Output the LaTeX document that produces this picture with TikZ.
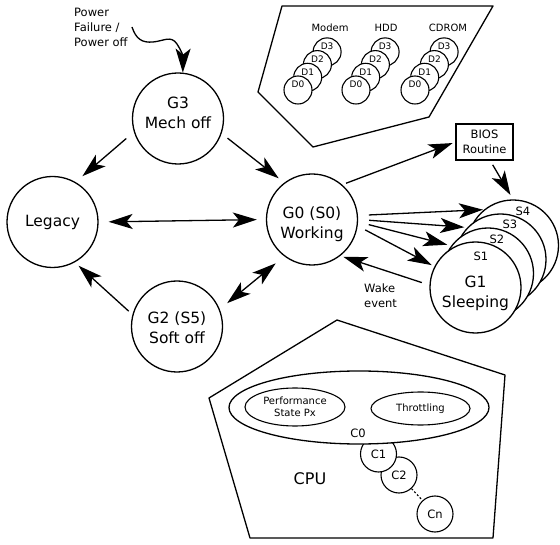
\documentclass[tikz,border=0pt]{standalone}
\usepackage{fontspec}
\setmainfont{DejaVu Sans}
\usetikzlibrary{arrows.meta,shapes.geometric}
\newcommand\fsBig{\fontsize{15.5}{20}\selectfont}
\newcommand\fsMid{\fontsize{11.5}{15}\selectfont}
\newcommand\fsSm{\fontsize{10}{12}\selectfont}
\newcommand\fsDev{\fontsize{9}{10}\selectfont}
\newcommand\fsCPU{\fontsize{16}{19}\selectfont}
\begin{document}
\begin{tikzpicture}[x=1pt,y=-1pt,
  state/.style={circle,draw,line width=1.3pt,minimum size=91pt,inner sep=0pt,fill=white},
  dev/.style={circle,draw,line width=1.1pt,minimum size=28pt,inner sep=0pt,fill=white},
  cst/.style={circle,draw,line width=1.1pt,minimum size=36pt,inner sep=0pt,fill=white,font=\fsMid},
  arr/.style={line width=1.3pt,-{Stealth[length=24pt,width=15pt,inset=6pt]}},
  darr/.style={line width=1.3pt,{Stealth[length=24pt,width=15pt,inset=6pt]}-{Stealth[length=24pt,width=15pt,inset=6pt]}},
  txt/.style={inner sep=0pt,align=center},
  poly/.style={line width=1.3pt,line join=round}
]
\useasboundingbox (0,0) rectangle (560,545);

% ---- device polygon ----
\draw[poly] (282,6) -- (493,6) -- (429,117) -- (313,147) -- (258,92) -- cycle;
\node[txt,font=\fsSm] (lmodem) at (330,28) {Modem};
\node[txt,font=\fsSm] (lhdd) at (386,28) {HDD};
\node[txt,font=\fsSm] (lcd) at (448,28) {CDROM};
\foreach \gx/\gn in {298/m,356/h,415/c} {
  \foreach \k in {3,2,1,0} {
    \node[dev,label={[txt,font=\fsDev,yshift=5.5pt]center:D\k}] (\gn\k) at ({\gx+9.7*\k},{90-12.7*\k}) {};
  }
}

% ---- states ----
\node[state,label={[txt,font=\fsBig,yshift=5.5pt,name=g3t]center:G3\\Mech off}] (g3) at (178,118.5) {};
\node[state,label={[txt,font=\fsBig,name=legt]center:Legacy}] (legacy) at (52.5,222) {};
\node[state,label={[txt,font=\fsBig,yshift=-1.5pt,name=g2t]center:G2 (S5)\\Soft off}] (g2) at (177,326.5) {};
\node[state,label={[txt,font=\fsBig,yshift=-4.5pt,name=g0t]center:G0 (S0)\\Working}] (g0) at (312,219.5) {};

% sleeping stack
\node[state] (s4) at (513,245.5) {};
\node[state] (s3) at (500.5,259.5) {};
\node[state] (s2) at (488,273.5) {};
\node[state,label={[txt,font=\fsBig,yshift=-5.5pt,name=g1t]center:G1\\Sleeping}] (g1) at (475.5,287.5) {};
\node[txt,font=\fsMid] (s4t) at (523,211) {S4};
\node[txt,font=\fsMid] (s3t) at (510,224) {S3};
\node[txt,font=\fsMid] (s2t) at (497,239) {S2};
\node[txt,font=\fsMid] (s1t) at (481,256) {S1};

% BIOS
\node[draw,line width=1.1pt,minimum width=57pt,minimum height=36pt,inner sep=0pt,align=center,font=\fsMid] (bios) at (484.5,142) {BIOS\\Routine};

% power failure
\node[anchor=west,inner sep=0pt,align=left,font=\fsMid] (pwr) at (74,27) {Power\\Failure /\\Power off};
\coordinate (pw) at (132,27);
\draw[arr] (pw) .. controls (136,39) and (142,43) .. (153,42) .. controls (164,41) and (171,35) .. (177,44) .. controls (181,50) and (183,56) .. (g3.84);

% ---- arrows ----
\draw[arr,shorten <=10pt,shorten >=9pt] (g3.197) -- (legacy.60);
\draw[arr,shorten <=7.5pt,shorten >=7pt] (g3.-19) -- (g0.127);
\draw[darr,shorten <=10pt,shorten >=9pt] (legacy.east) -- (g0.west);
\draw[arr,shorten <=5pt,shorten >=5pt] (g2.165) -- (legacy.-61);
\draw[darr,shorten <=9.5pt,shorten >=11pt] (g2.22) -- (g0.233);
\draw[arr,shorten <=4pt,shorten >=3pt] (g0.49) -- (bios.west);
\draw[arr,shorten <=5pt,shorten >=5pt] (bios.-73) -- (s4.north);
\draw[arr,shorten <=11pt,shorten >=1pt] (g0.5.5) -- (s4.129);
\draw[arr,shorten <=11pt,shorten >=3pt] (g0.-0.5) -- (s3.136);
\draw[arr,shorten <=11pt,shorten >=4pt] (g0.-3.5) -- (s2.143);
\draw[arr,shorten <=8.5pt,shorten >=3pt] (g0.-8) -- (g1.153);
\draw[arr,shorten <=8pt,shorten >=3pt] (g1.177) -- (g0.-52);
\node[anchor=west,inner sep=0pt,align=left,font=\fsMid] (wake) at (364,295.5) {Wake\\event};

% ---- CPU ----
\draw[poly] (209,398) -- (337,320) -- (505,375) -- (493,538) -- (250,538) -- cycle;
\node[cst] (cn) at (435,514) {Cn};
\node[cst] (c2) at (399,475) {C2};
\node[cst] (c1) at (378.5,454) {C1};
\draw[line width=1.1pt,dash pattern=on 2pt off 2pt] (c2) -- (cn);
\node[ellipse,draw,line width=1.3pt,fill=white,minimum width=260pt,minimum height=73pt,inner sep=0pt] (c0) at (359,407.5) {};
\node[ellipse,draw,line width=1.1pt,minimum width=100pt,minimum height=38pt,inner sep=0pt,align=center,font=\fsSm] (px) at (295,407) {Performance\\State Px};
\node[ellipse,draw,line width=1.1pt,minimum width=99pt,minimum height=33pt,inner sep=0pt,font=\fsSm] (thr) at (420.5,408.5) {Throttling};
\node[txt,font=\fsMid] (c0t) at (358,433) {C0};
\node[txt,font=\fsCPU] (cpu) at (310,479) {CPU};
\end{tikzpicture}
\end{document}
